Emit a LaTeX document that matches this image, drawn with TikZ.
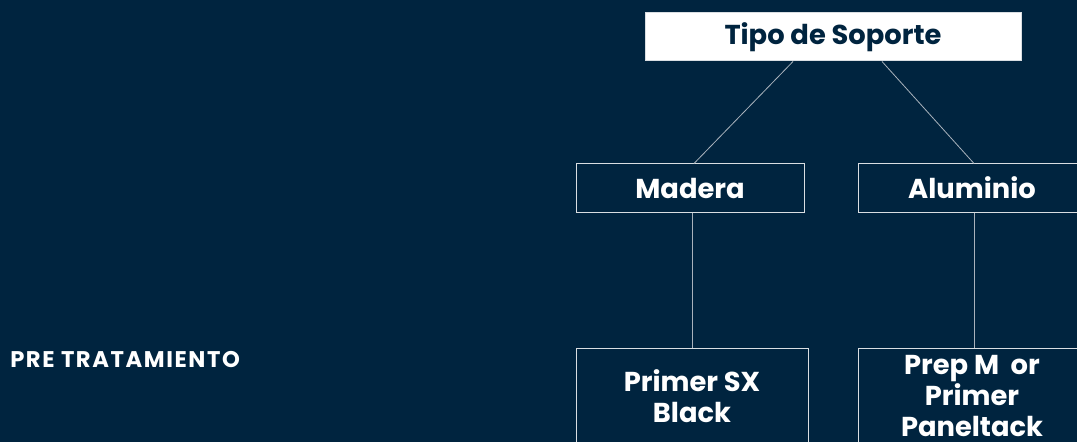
\documentclass[tikz,border=0pt]{standalone}
\usepackage{fontspec}
\setmainfont{Poppins}
\usetikzlibrary{positioning}
\definecolor{navy}{HTML}{00243F}
\definecolor{edge}{HTML}{A9B2BC}

\begin{document}
\begin{tikzpicture}[
    x=0.75pt, y=-0.75pt,
    stage/.style={
        rectangle,
        draw=white!85!navy,
        line width=0.75pt,
        text=white,
        font=\fontsize{20.5}{23.5}\selectfont\bfseries,
        align=center,
        minimum width=228*0.75pt,
        minimum height=48*0.75pt,
        inner sep=0pt
    },
    link/.style={draw=edge, line width=0.6pt}
]

    % Canvas
    \useasboundingbox (0,0) rectangle (1077,442);
    \clip (0,0) rectangle (1077,442);
    \fill[navy] (0,0) rectangle (1077,442);

    % Top node (support type)
    \node[stage, fill=white, text=navy, minimum width=376*0.75pt] (tipo) at (833,37) {Tipo de Soporte};

    % Second row
    \node[stage] (madera) at (690,188) {Madera};
    \node[stage] (aluminio) at (972,188) {Aluminio};

    % Third row (pre treatment)
    \node[stage, minimum width=232*0.75pt, minimum height=96*0.75pt] (primer) at (692,396) {Primer SX\\Black};
    \node[stage, minimum width=228*0.75pt, minimum height=96*0.75pt, text depth=0pt] (prep) at (972,396) {Prep M\ \ or\\Primer\\Paneltack};

    % Row label
    \node[text=white, font=\fontsize{17}{20}\selectfont\bfseries\addfontfeature{LetterSpace=7}, anchor=west, inner sep=0pt] (pre) at (10,360) {PRE TRATAMIENTO};

    % Connectors
    \draw[link] ([xshift=-40*0.75pt]tipo.south) -- ([xshift=4*0.75pt]madera.north);
    \draw[link] ([xshift=49*0.75pt]tipo.south) -- ([xshift=2*0.75pt]aluminio.north);
    \draw[link] ([xshift=2*0.75pt]madera.south) -- (primer.north);
    \draw[link] ([xshift=2*0.75pt]aluminio.south) -- ([xshift=2*0.75pt]prep.north);

\end{tikzpicture}
\end{document}
